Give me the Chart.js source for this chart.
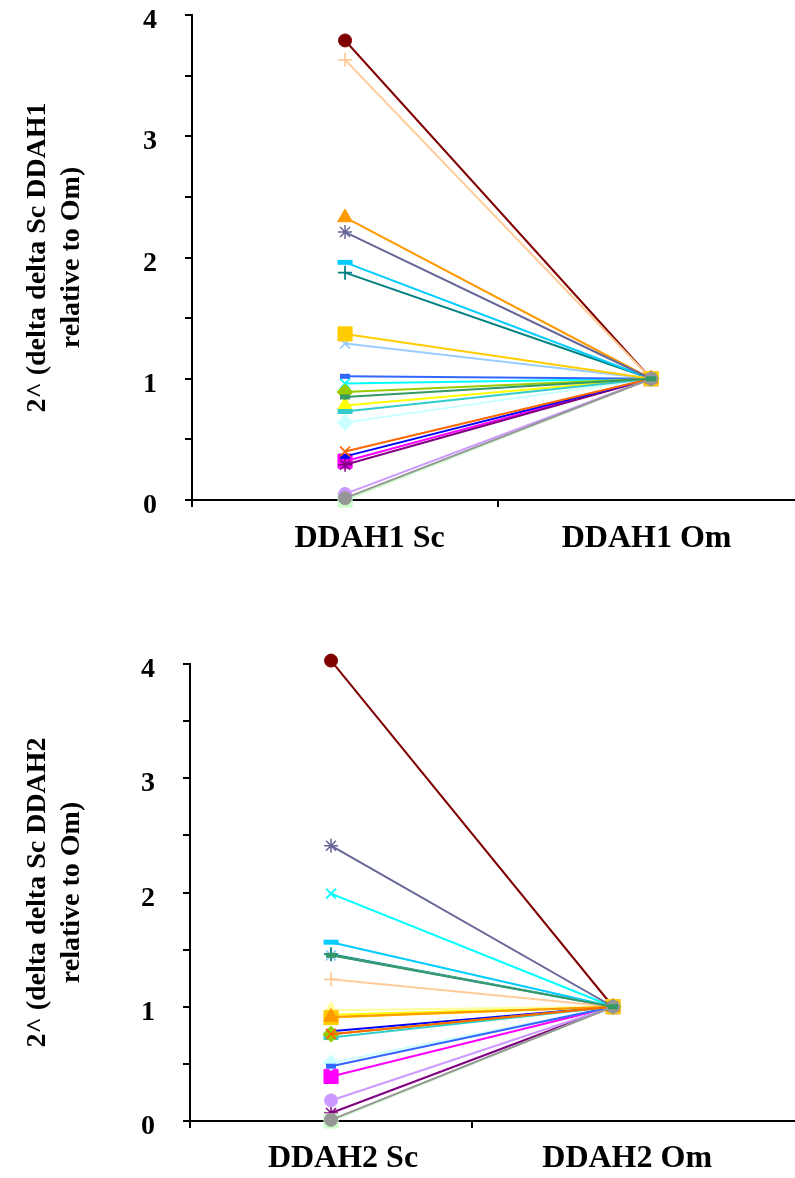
<!DOCTYPE html>
<html>
<head>
<meta charset="utf-8">
<script src="https://cdn.jsdelivr.net/npm/chart.js@4"></script>
<style>
  html, body { margin: 0; padding: 0; background: #fff; overflow: hidden; }
  .wrap { position: absolute; left: 0; width: 795px; }
  #top { top: 0; height: 590px; }
  #bottom { top: 590px; height: 588px; }
</style>
</head>
<body>
<div class="wrap" id="top"><canvas id="chartTop" width="795" height="590"></canvas></div>
<div class="wrap" id="bottom"><canvas id="chartBottom" width="795" height="588"></canvas></div>
<script>
const ddah1Categories = ['DDAH1 Sc', 'DDAH1 Om'];
const ddah2Categories = ['DDAH2 Sc', 'DDAH2 Om'];
const yTickLabels = [0, 1, 2, 3, 4];

const seriesNames = ['Series 2', 'Series 3', 'Series 4', 'Series 5', 'Series 6', 'Series 7',
    'Series 8', 'Series 9', 'Series 10', 'Series 11', 'Series 12', 'Series 13', 'Series 15',
    'Series 16', 'Series 17', 'Series 18', 'Series 19', 'Series 20', 'Series 21', 'Series 22',
    'Series 23', 'Series 24', 'Series 26'];

const ddah1Sc = [0.32, 0.78, 0.96, 0.29, 3.79, 1.875, 0.36, 1.96, 0.64, 0.0, null, 1.29, 0.05,
    3.63, 1.02, 0.73, 0.89, 1.37, 2.33, 0.40, 2.21, 0.015, 0.85];
const ddah1Om = [1, 1, 1, 1, 1, 1, 1, 1, 1, 1, 1, 1, 1, 1, 1, 1, 1, 1, 1, 1, 1, 1, 1];

const ddah2Sc = [0.39, 0.93, 1.99, 0.07, 4.03, 1.46, 0.785, 1.565, 0.51, 0.0, 0.97, 1.45, 0.18,
    1.24, 0.48, 0.73, 0.76, 0.905, 0.91, 0.76, 2.41, 0.01, 1.45];
const ddah2Om = [1, 1, 1, 1, 1, 1, 1, 1, 1, 1, 1, 1, 1, 1, 1, 1, 1, 1, 1, 1, 1, 1, 1];

// old Excel default series look
const seriesColors = ['#FF00FF', '#FFFF00', '#00FFFF', '#800080', '#800000', '#008080',
    '#0000FF', '#00CCFF', '#CCFFFF', '#CCFFCC', '#FFFF99', '#99CCFF', '#CC99FF',
    '#FFCC99', '#3366FF', '#33CCCC', '#99CC00', '#FFCC00', '#FF9900', '#FF6600',
    '#666699', '#969696', '#339966'];
const seriesMarkers = ['square', 'triangle', 'x', 'star', 'circle', 'plus',
    'dash', 'longDash', 'diamond', 'square', 'triangle', 'x', 'circle',
    'plus', 'dash', 'longDash', 'diamond', 'square', 'triangle', 'x',
    'star', 'circle', 'dash'];

const markerLook = {
    circle:   { style: 'circle',   radius: 6.5, width: 1 },
    square:   { style: 'rect',     radius: 10,  width: 1 },
    triangle: { style: 'triangle', radius: 8.5, width: 1 },
    diamond:  { style: 'rectRot',  radius: 8,   width: 1 },
    x:        { style: 'crossRot', radius: 7,   width: 1.75 },
    plus:     { style: 'cross',    radius: 7,   width: 1.75 },
    star:     { style: 'star',     radius: 7,   width: 1.5 },
    dash:     { style: 'line',     radius: 5,   width: 5 },
    longDash: { style: 'line',     radius: 7.5, width: 5 }
};

const serif = '"Liberation Serif", "Times New Roman", serif';

// category i sits in the middle of its slot
function catX(i) { return 2 * i + 1; }

function buildChart(canvasId, categories, scValues, omValues, titleLines, box) {
    const n = seriesNames.length;
    const datasets = seriesNames.map((name, i) => {
        const look = markerLook[seriesMarkers[i]];
        return {
            label: name,
            data: [
                { x: catX(0), y: scValues[i] },
                { x: catX(1), y: omValues[i] }
            ],
            borderColor: seriesColors[i],
            backgroundColor: seriesColors[i],
            borderWidth: 2,
            pointStyle: look.style,
            pointRadius: look.radius,
            pointBorderWidth: look.width,
            pointBackgroundColor: seriesColors[i],
            pointBorderColor: seriesColors[i],
            order: n - i,
            clip: false,
            spanGaps: false
        };
    });

    new Chart(document.getElementById(canvasId), {
        type: 'line',
        data: { datasets: datasets },
        options: {
            responsive: false,
            animation: false,
            devicePixelRatio: 1,
            layout: { autoPadding: false, padding: { top: box.padTop, left: 0, right: 0, bottom: 0 } },
            plugins: { legend: { display: false }, tooltip: { enabled: false } },
            scales: {
                x: {
                    type: 'linear',
                    min: 0,
                    max: box.xMax,
                    afterBuildTicks: s => {
                        const marks = box.xMarks.map(v => ({ value: v, mark: true }));
                        const labels = categories.map((c, i) => ({ value: catX(i) + box.labelShift[i], cat: i }));
                        s.ticks = marks.concat(labels).sort((a, b) => a.value - b.value);
                    },
                    afterFit: s => { s.height = box.xAxisHeight; s.paddingLeft = 0; s.paddingRight = 0; },
                    grid: {
                        drawOnChartArea: false,
                        tickLength: 7,
                        lineWidth: 2,
                        color: c => (c.tick && c.tick.mark) ? '#000' : 'rgba(0,0,0,0)'
                    },
                    border: { color: '#000', width: 2 },
                    ticks: {
                        autoSkip: false,
                        maxRotation: 0,
                        padding: box.xPad,
                        color: '#000',
                        font: { family: serif, size: 32, weight: 'bold' },
                        callback: (v, i, ticks) => (ticks[i].cat !== undefined ? categories[ticks[i].cat] : '')
                    }
                },
                y: {
                    min: 0,
                    max: 4,
                    afterFit: s => { s.width = box.yAxisWidth; s.paddingTop = 0; s.paddingBottom = 0; },
                    grid: { drawOnChartArea: false, tickLength: 7, lineWidth: 2, color: '#000' },
                    border: { color: '#000', width: 2 },
                    ticks: {
                        stepSize: 0.5,
                        autoSkip: false,
                        padding: 28,
                        labelOffset: 6,
                        color: '#000',
                        font: { family: serif, size: 28, weight: 'bold' },
                        callback: v => (yTickLabels.includes(v) ? String(v) : '')
                    },
                    title: {
                        display: true,
                        text: titleLines,
                        color: '#000',
                        font: { family: serif, size: 28, weight: 'bold', lineHeight: 1.2 },
                        padding: { top: 21, bottom: 0 }
                    }
                }
            }
        }
    });
}

buildChart('chartTop', ddah1Categories, ddah1Sc, ddah1Om,
    ['2^ (delta delta Sc DDAH1', 'relative to Om)'],
    { padTop: 15, yAxisWidth: 192, xAxisHeight: 90, xMax: 3.94, xPad: 13,
      xMarks: [0, 2], labelShift: [0.16, -0.03] });

buildChart('chartBottom', ddah2Categories, ddah2Sc, ddah2Om,
    ['2^ (delta delta Sc DDAH2', 'relative to Om)'],
    { padTop: 74, yAxisWidth: 190, xAxisHeight: 57, xMax: 4.29, xPad: 12,
      xMarks: [0, 2], labelShift: [0.085, 0.1] });
</script>
</body>
</html>
